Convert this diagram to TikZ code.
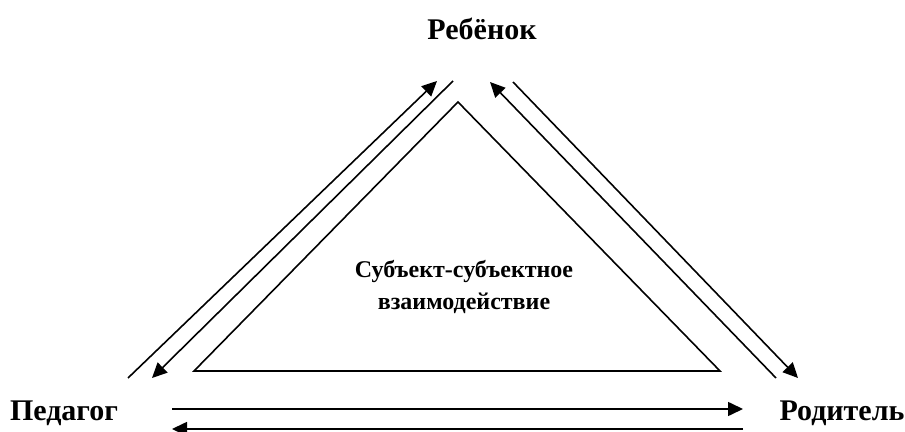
\documentclass[tikz,border=0pt]{standalone}
\usepackage{fontspec}
\setmainfont{Liberation Serif}
\usetikzlibrary{arrows.meta}

\begin{document}
\begin{tikzpicture}[x=0.5pt,y=-0.5pt,line width=0.8pt,
  >={Triangle[length=7.5pt,width=7pt]}]
\tikzstyle{every node}+=[inner sep=0pt]
\tikzstyle{role}=[font=\fontsize{15}{17}\selectfont\bfseries]
\useasboundingbox (0,0) rectangle (905,432);
\node [role] (child) at (482,29) {Ребёнок};
\node [role] (teacher) at (64,413) {Педагог};
\node [role] (parent) at (842,413) {Родитель};
\node [font=\fontsize{12}{16}\selectfont\bfseries, align=center] (core) at (464,287) {Субъект-субъектное\\взаимодействие};
\coordinate (tl1) at (128,378);
\coordinate (tl2) at (437,81);
\coordinate (tl3) at (453,81);
\coordinate (tl4) at (152,378);
\coordinate (tr1) at (776,378);
\coordinate (tr2) at (490,82);
\coordinate (tr3) at (513,82);
\coordinate (tr4) at (798,378);
\coordinate (bl1) at (172,409);
\coordinate (br1) at (743,409);
\coordinate (br2) at (743,429);
\coordinate (bl2) at (172,429);
\coordinate (apex) at (458,102);
\coordinate (left) at (194,371);
\coordinate (right) at (720,371);
\draw (apex) -- (right) -- (left) -- cycle;
\draw [->] (tl1) -- (tl2);
\draw [->] (tl3) -- (tl4);
\draw [->] (tr1) -- (tr2);
\draw [->] (tr3) -- (tr4);
\draw [->] (bl1) -- (br1);
\draw [->] (br2) -- (bl2);
\end{tikzpicture}
\end{document}
